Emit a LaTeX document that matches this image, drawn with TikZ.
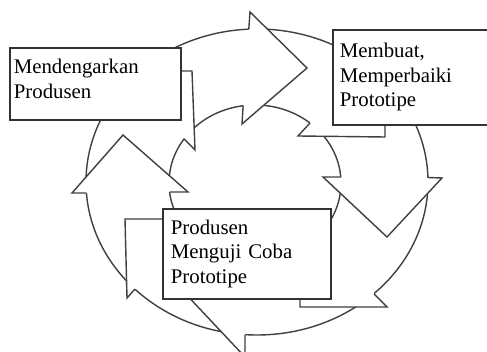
\documentclass[tikz,border=0pt]{standalone}
\usepackage{fontspec}
\setmainfont{Liberation Serif}

\begin{document}
\begin{tikzpicture}[x=0.025cm, y=-0.025cm, every node/.style={font=\fontsize{14.8}{17.5}\selectfont}]

\tikzstyle{ring} = [draw=black!75, line width=1pt]
\tikzstyle{erase} = [fill=white]
\tikzstyle{outline} = [draw=black!75, line width=1pt, line join=miter]
\tikzstyle{box} = [rectangle, draw=black!80, line width=1.2pt, fill=white, anchor=north west, align=left, inner ysep=0pt]

\useasboundingbox (0,0) rectangle (487,352);
\clip (0,0) rectangle (487,352);

% Ring
\draw[ring] (257,182) ellipse [x radius=171, y radius=153];
\draw[ring] (255,183) ellipse [x radius=86, y radius=78];

% Arrow heads
\fill[erase] (250,12) -- (307,68) -- (242,124) -- cycle;
\draw[outline] (248.8,29) -- (250,12) -- (307,68) -- (242,124) -- (243.1,106);

\fill[erase] (323,177) -- (387,237) -- (442,178) -- cycle;
\draw[outline] (341,177) -- (323,177) -- (387,237) -- (442,178) -- (428,177.5);

\fill[erase] (182,290) -- (245,235) -- (245,357) -- cycle;
\draw[outline] (245,335) -- (245,357) -- (182,290) -- (245,235) -- (245,261);

\fill[erase] (72,193) -- (123,135) -- (188,192) -- cycle;
\draw[outline] (86.4,193) -- (72,193) -- (123,135) -- (188,192) -- (169.6,192);

% Tails
\fill[erase] (175,71) -- (192,71) -- (195,150) -- (184,139) -- (175,120) -- cycle;
\draw[outline] (175,71) -- (192,71) -- (195,150) -- (184,139);

\fill[erase] (310,110) -- (310,123) -- (298,136) -- (385,137) -- (385,110) -- cycle;
\draw[outline] (385,115) -- (385,137) -- (298,136) -- (310,123);

\fill[erase] (300,285) -- (300,307) -- (387,307) -- (374,294) -- (372,285) -- cycle;
\draw[outline] (300,290) -- (300,307) -- (387,307) -- (374,294);

\fill[erase] (170,219) -- (125,219) -- (127,298) -- (135,289) -- (170,289) -- cycle;
\draw[outline] (165,219) -- (125,219) -- (127,298) -- (135,289);

% Boxes
\node[box, minimum width=4.275cm, minimum height=1.8cm, inner xsep=0.1cm, text width=4.075cm] (listen) at (9,47) {Mendengarkan\\Produsen\rule[-0.25cm]{0pt}{0pt}};
\node[box, minimum width=4cm, minimum height=2.375cm, inner xsep=0.175cm, text width=3.65cm] (build) at (332,29) {Membuat,\\Memperbaiki\\Prototipe};
\node[box, minimum width=4.2cm, minimum height=2.25cm, inner xsep=0.2cm, text width=3.8cm] (test) at (162,208) {Produsen\\Menguji Coba\\Prototipe};

\end{tikzpicture}
\end{document}
